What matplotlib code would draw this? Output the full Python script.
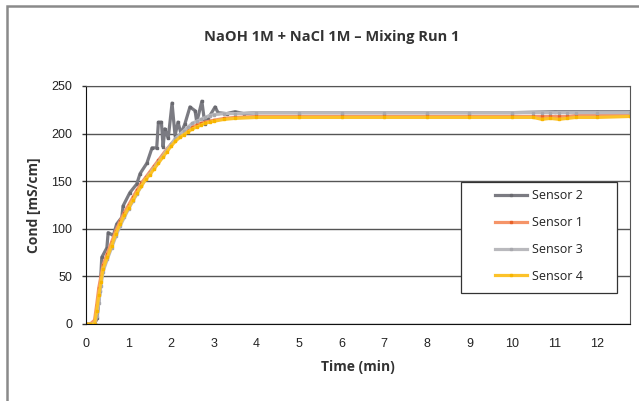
import matplotlib
matplotlib.use('Agg')
import matplotlib.pyplot as plt
from matplotlib.patches import Rectangle

# time grid (min) for the three smooth sensors
t_main = [0, 0.1, 0.2, 0.25, 0.3, 0.35, 0.4, 0.5, 0.6, 0.7,
          0.8, 0.9, 1.0, 1.1, 1.2, 1.3, 1.4, 1.5, 1.6, 1.7,
          1.8, 1.9, 2.0, 2.1, 2.2, 2.3, 2.4, 2.5, 2.6, 2.7,
          2.8, 2.9, 3.0, 3.25, 3.5, 4, 5, 6, 7, 8,
          9, 10, 10.5, 10.7, 10.9, 11.1, 11.3, 11.5, 12, 12.77]

sensor1 = [0, 0, 4, 20, 38, 50, 62, 74, 86, 98,
           108, 117, 125, 133, 141, 148, 154, 160, 166, 172,
           178, 184, 189, 194, 198, 201, 204, 207, 209, 211,
           212, 213, 214, 216, 217, 218, 218, 218, 218, 218,
           218, 218, 218, 218, 218, 218, 218, 219, 219, 219]

sensor3 = [0, 0, 0, 8, 22, 40, 55, 68, 80, 92,
           103, 112, 121, 129, 137, 145, 152, 158, 164, 170,
           176, 183, 189, 195, 199, 203, 207, 211, 213, 215,
           217, 219, 220, 221, 221, 222, 222, 222, 222, 222,
           222, 222, 222, 222, 222, 222, 222, 222, 222, 222]

sensor4 = [0, 0, 0, 14, 30, 44, 58, 70, 82, 95,
           105, 114, 122, 130, 138, 145, 152, 157, 163, 169,
           175, 181, 187, 192, 196, 199, 202, 205, 207, 209,
           211, 212, 213, 215, 216, 217, 217, 217, 217, 217,
           217, 217, 217, 215, 216, 215, 216, 217, 217, 218]

# sensor 2 is noisy, own time points
t_s2 = [0, 0.1, 0.2, 0.26, 0.33, 0.37, 0.49, 0.52, 0.64, 0.72,
        0.84, 0.87, 1.03, 1.19, 1.27, 1.43, 1.55, 1.66, 1.7, 1.77,
        1.81, 1.85, 1.93, 2.02, 2.09, 2.16, 2.23, 2.32, 2.44, 2.56,
        2.6, 2.72, 2.79, 2.87, 3.03, 3.1, 3.3, 3.5, 3.7, 4,
        5, 6, 7, 8, 9, 10, 11, 12, 12.77]
sensor2 = [0, 0, 0, 6, 35, 70, 80, 96, 93, 105,
           112, 124, 138, 147, 158, 169, 185, 185, 212, 212,
           186, 205, 195, 232, 198, 212, 200, 210, 228, 224,
           212, 234, 210, 216, 228, 222, 221, 223, 221, 222,
           222, 222, 222, 222, 222, 222, 223, 223, 223]

series = [
    ('Sensor 2', t_s2, sensor2, '#7b7b82', '#6a6a70'),
    ('Sensor 1', t_main, sensor1, '#f59468', '#e8622a'),
    ('Sensor 3', t_main, sensor3, '#b9b9bd', '#a8a8ad'),
    ('Sensor 4', t_main, sensor4, '#fcc22a', '#f7b500'),
]

tick_font = 'Liberation Sans'
label_font = 'Open Sans'

fig = plt.figure(figsize=(6.39, 4.01), dpi=100)
ax = fig.add_axes([86/639, 1-324/401, 544/639, 238/401])

for name, t, v, col, mcol in series:
    ax.plot(t, v, color=col, lw=2.3, marker='s', markersize=1.6,
            markerfacecolor=mcol, markeredgecolor=mcol, label=name)

ax.set_xlim(0, 12.77)
ax.set_ylim(0, 250)
ax.set_xticks(range(0, 13))
ax.set_yticks(range(0, 251, 50))
ax.yaxis.grid(True, color='#555555', lw=1)
ax.set_axisbelow(True)
ax.tick_params(axis='x', length=0, pad=10, labelsize=9)
ax.tick_params(axis='y', length=3, width=1, pad=7, labelsize=9, color='#333333')
for lab in ax.get_xticklabels() + ax.get_yticklabels():
    lab.set_fontfamily(tick_font)
    lab.set_color('#222222')

for side in ['left', 'bottom']:
    ax.spines[side].set_color('#111111')
for side in ['top', 'right']:
    ax.spines[side].set_color('#555555')

ax.set_xlabel('Time (min)', fontfamily=label_font, fontweight='bold',
              fontsize=10, color='#333333', labelpad=7)
ax.set_ylabel('Cond [mS/cm]', fontfamily=label_font, fontweight='bold',
              fontsize=10, color='#333333', labelpad=7)

fig.text(332/639, 1-37/401, 'NaOH 1M + NaCl 1M – Mixing Run 1',
         ha='center', va='center', fontfamily=label_font, fontweight='bold',
         fontsize=10.5, color='#333333')

# legend box drawn by hand, legend entries centred in it
box = Rectangle(((461-86)/544, (324-293)/238), 156/544, 111/238,
                transform=ax.transAxes, facecolor='white', edgecolor='#333333',
                lw=0.9, zorder=5)
ax.add_patch(box)
leg = ax.legend(loc='center', bbox_to_anchor=((539-86)/544, (324-236)/238),
                frameon=False, handlelength=2.6, handletextpad=0.4,
                labelspacing=1.1, prop={'family': label_font, 'size': 9})
leg.set_zorder(6)
for line in leg.get_lines():
    line.set_linewidth(2.3)
for txt in leg.get_texts():
    txt.set_color('#222222')

# outer chart border
fig.add_artist(Rectangle((7/639, -0.1), 1.2, 1.1 - 6/401,
                         transform=fig.transFigure, fill=False,
                         edgecolor='#8a8a8a', lw=1.8))

fig.savefig('out.png', dpi=100)
